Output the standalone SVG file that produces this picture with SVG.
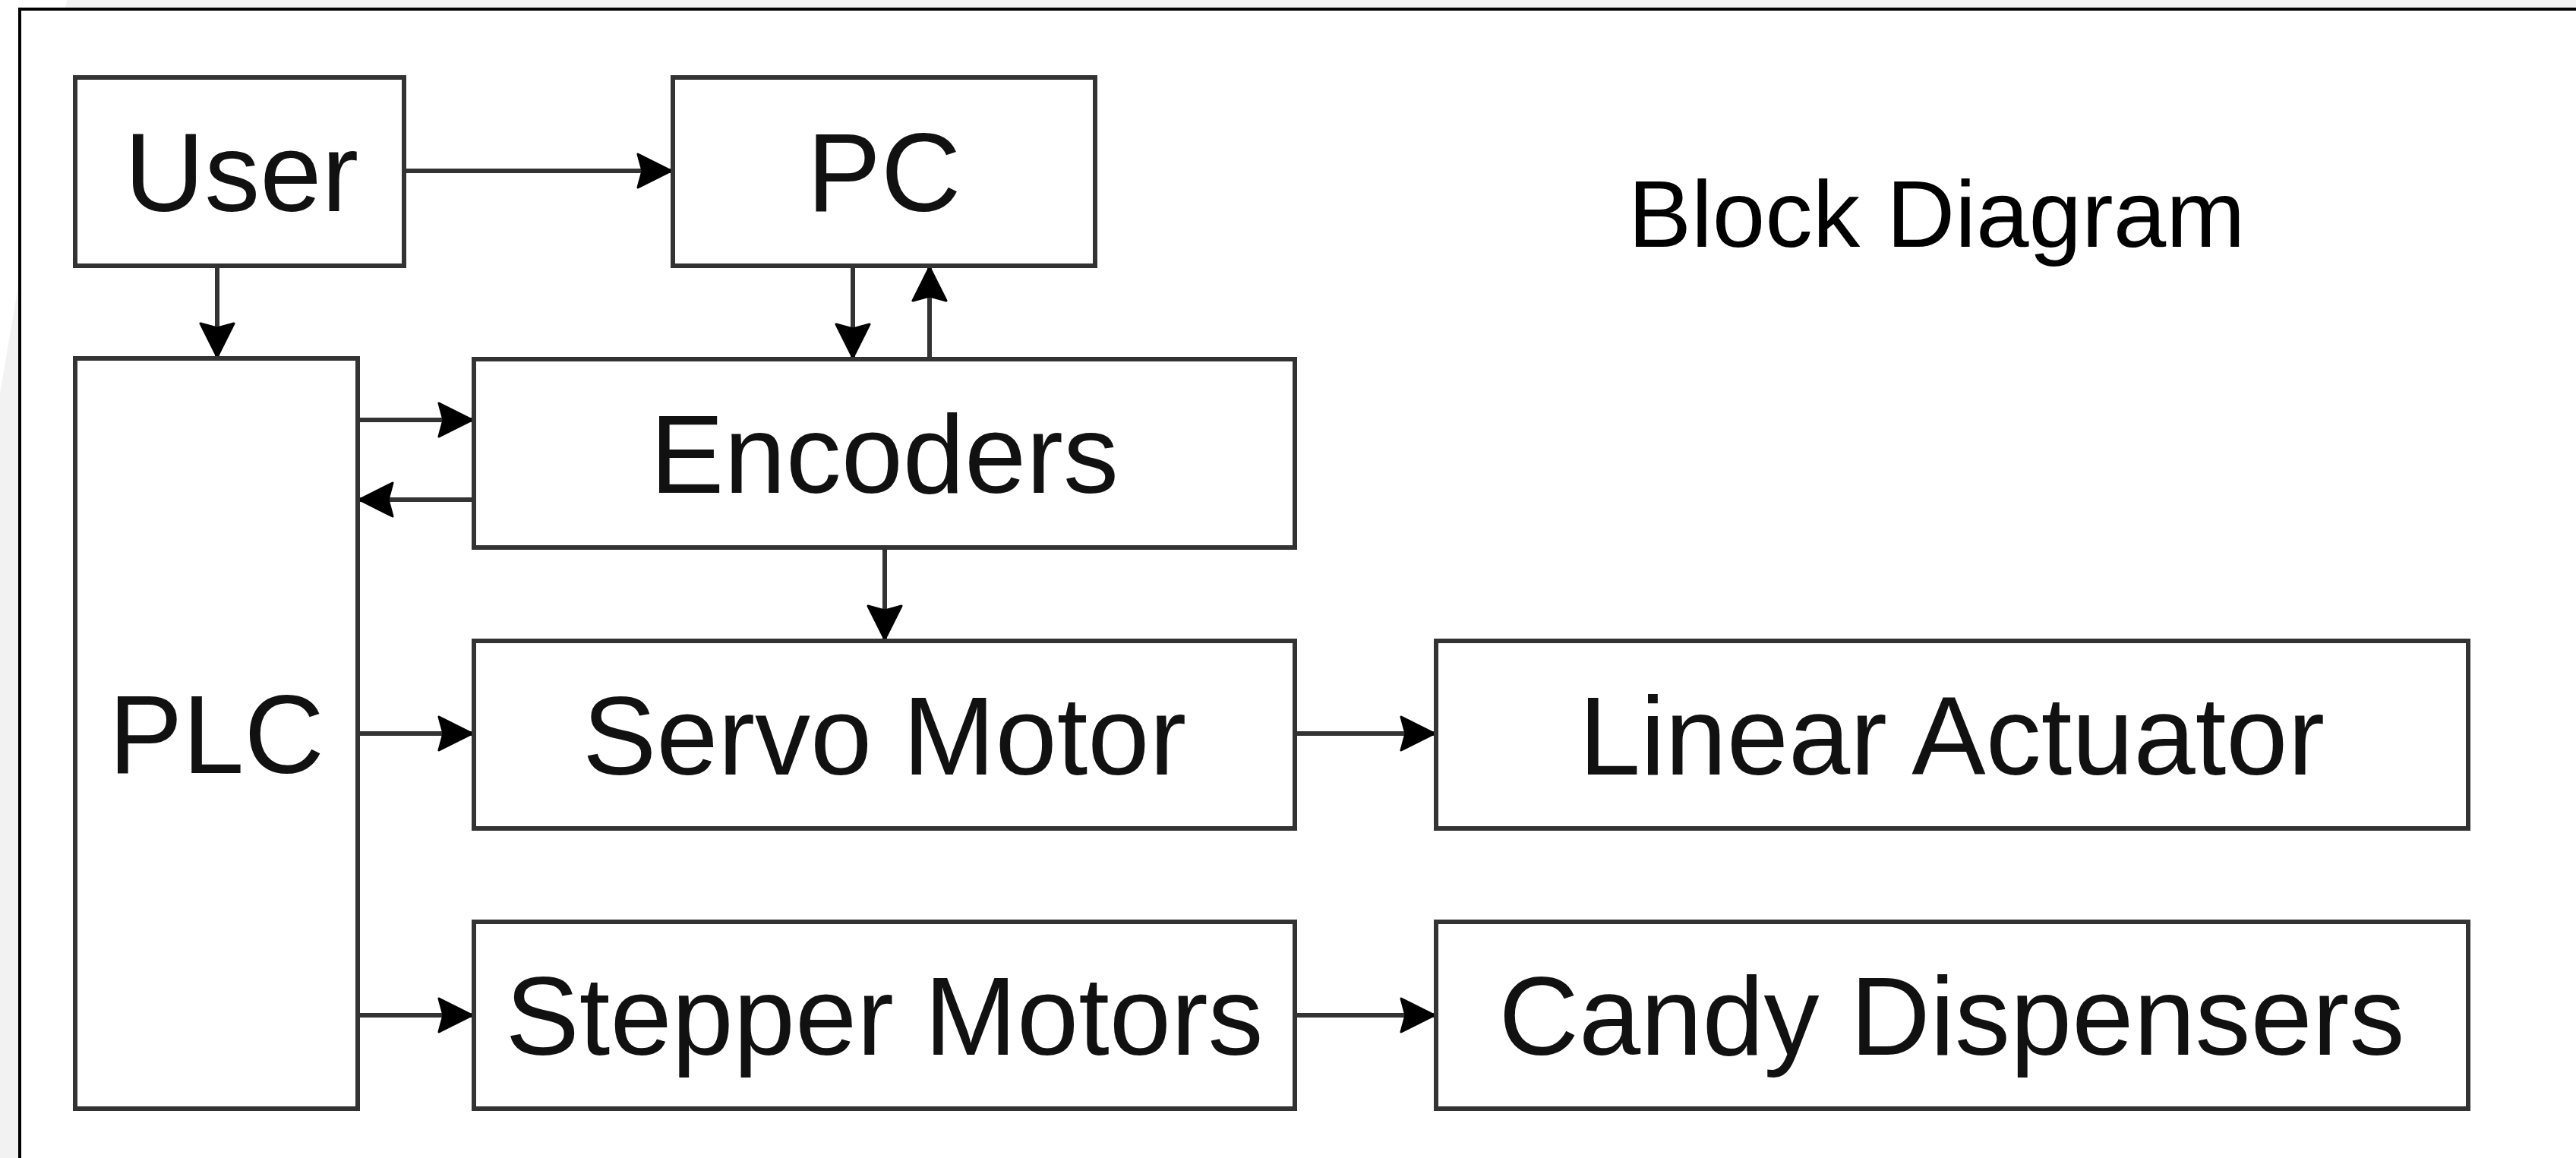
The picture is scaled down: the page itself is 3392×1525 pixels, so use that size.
<svg xmlns="http://www.w3.org/2000/svg" width="3392" height="1525" viewBox="0 0 3392 1525">
  <style>
    .box { fill: #ffffff; stroke: #333333; stroke-width: 6; }
    .lbl { font-family: "Liberation Sans", Arial, sans-serif; font-size: 146px; fill: #111111; text-anchor: middle; }
    .title { font-family: "Liberation Sans", Arial, sans-serif; font-size: 125px; fill: #000000; text-anchor: middle; }
    .conn { stroke: #333333; stroke-width: 6; fill: none; marker-end: url(#arrow); }
  </style>
  <defs>
    <marker id="arrow" markerUnits="userSpaceOnUse" markerWidth="50" markerHeight="54" refX="48" refY="27" orient="auto" viewBox="0 0 50 54">
      <path d="M48,27 L4,5 L10,27 L4,49 Z" fill="#000000" stroke="#000000" stroke-width="3" stroke-linejoin="round"/>
    </marker>
  </defs>
  <rect x="0" y="0" width="3392" height="1525" fill="#f2f2f2"/>
  <polygon points="0,0 88,0 0,518" fill="#ffffff"/>
  <rect id="frame" x="26" y="12" width="3500" height="1600" fill="#ffffff" stroke="#000000" stroke-width="4"/>
  <g id="title"><text class="title" x="2550" y="325">Block Diagram</text></g>

  <g id="connectors">
    <line class="conn" x1="532" y1="225" x2="884" y2="225"/>
    <line class="conn" x1="286" y1="350" x2="286" y2="470"/>
    <line class="conn" x1="1123" y1="350" x2="1123" y2="471"/>
    <line class="conn" x1="1224" y1="473" x2="1224" y2="352"/>
    <line class="conn" x1="471" y1="553" x2="622" y2="553"/>
    <line class="conn" x1="624" y1="658" x2="473" y2="658"/>
    <line class="conn" x1="1165" y1="721" x2="1165" y2="842"/>
    <line class="conn" x1="471" y1="966" x2="622" y2="966"/>
    <line class="conn" x1="471" y1="1337" x2="622" y2="1337"/>
    <line class="conn" x1="1705" y1="966" x2="1889" y2="966"/>
    <line class="conn" x1="1705" y1="1337" x2="1889" y2="1337"/>
  </g>

  <g id="user"><rect class="box" x="99" y="102" width="433" height="248"/><text class="lbl" x="318" y="278">User</text></g>
  <g id="pc"><rect class="box" x="886" y="102" width="556" height="248"/><text class="lbl" x="1164" y="278">PC</text></g>
  <g id="plc"><rect class="box" x="99" y="472" width="372" height="988"/><text class="lbl" x="285" y="1018">PLC</text></g>
  <g id="encoders"><rect class="box" x="624" y="473" width="1081" height="248"/><text class="lbl" x="1164.5" y="649">Encoders</text></g>
  <g id="servo"><rect class="box" x="624" y="844" width="1081" height="247"/><text class="lbl" x="1164.5" y="1020">Servo Motor</text></g>
  <g id="stepper"><rect class="box" x="624" y="1214" width="1081" height="246"/><text class="lbl" x="1164.5" y="1389">Stepper Motors</text></g>
  <g id="linear"><rect class="box" x="1891" y="844" width="1359" height="247"/><text class="lbl" x="2570" y="1020">Linear Actuator</text></g>
  <g id="candy"><rect class="box" x="1891" y="1214" width="1359" height="246"/><text class="lbl" x="2570" y="1389">Candy Dispensers</text></g>
</svg>
